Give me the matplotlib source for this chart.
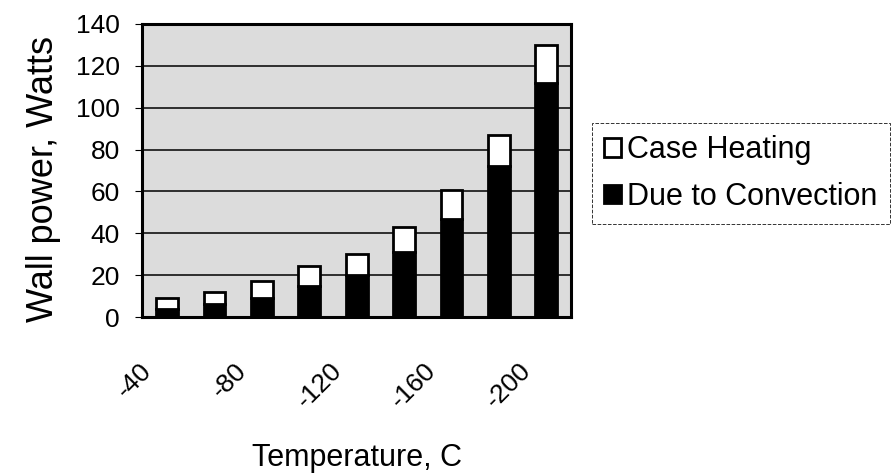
import matplotlib
matplotlib.use("Agg")
import matplotlib.pyplot as plt
import matplotlib.transforms as mtransforms
import numpy as np

plt.rcParams["font.family"] = ["Liberation Sans", "DejaVu Sans"]

# Wall power vs temperature
temps = [-40, -60, -80, -100, -120, -140, -160, -180, -200]
convection = [4, 6, 9, 15, 20, 31, 47, 72, 112]
case_heating = [5, 6, 8, 9.5, 10, 12, 13.5, 15, 18]
y_ticks = [0, 20, 40, 60, 80, 100, 120, 140]

fig = plt.figure(figsize=(8.91, 4.74), dpi=100)
ax = fig.add_axes([0.1594, 0.3312, 0.4815, 0.6182])

x = np.arange(len(temps))
width = 0.46
ax.bar(x, convection, width, color="black", edgecolor="black", linewidth=2,
       label="Due to Convection", zorder=3)
ax.bar(x, case_heating, width, bottom=convection, color="white",
       edgecolor="black", linewidth=2, label="Case Heating", zorder=3)

ax.set_facecolor("#dcdcdc")
ax.set_axisbelow(True)
ax.yaxis.grid(True, color="black", linewidth=1.1)
for side in ax.spines.values():
    side.set_linewidth(2.2)

ax.set_xlim(-0.53, 8.52)
ax.set_ylim(0, 140)
ax.set_yticks(y_ticks)
ax.tick_params(axis="y", labelsize=19, length=5, width=0.8, pad=11)

ax.set_xticks(x)
ax.set_xticklabels([str(t) if i % 2 == 0 else "" for i, t in enumerate(temps)],
                   rotation=45, ha="right", va="center", rotation_mode="anchor",
                   fontsize=19)
ax.tick_params(axis="x", length=0, pad=0)
offset = mtransforms.ScaledTranslation(-0.19, -0.5, fig.dpi_scale_trans)
for lab in ax.get_xticklabels():
    lab.set_transform(lab.get_transform() + offset)

ax.set_ylabel("Wall power, Watts", fontsize=26)
ax.yaxis.set_label_coords(-0.19, 0.47)
ax.set_xlabel("Temperature, C", fontsize=22)
ax.xaxis.set_label_coords(0.502, -0.43)

handles, labels = ax.get_legend_handles_labels()
leg = fig.legend(handles[::-1], labels[::-1], loc="upper left",
                 bbox_to_anchor=(592 / 891, 1 - 123 / 474),
                 fontsize=22, frameon=True, fancybox=False,
                 handlelength=0.55, handleheight=0.55, handletextpad=0.2,
                 borderpad=0.4, labelspacing=0.55, borderaxespad=0)
leg.get_frame().set_edgecolor("black")
leg.get_frame().set_linestyle("--")
leg.get_frame().set_linewidth(0.7)

fig.savefig("out.png", dpi=100)
